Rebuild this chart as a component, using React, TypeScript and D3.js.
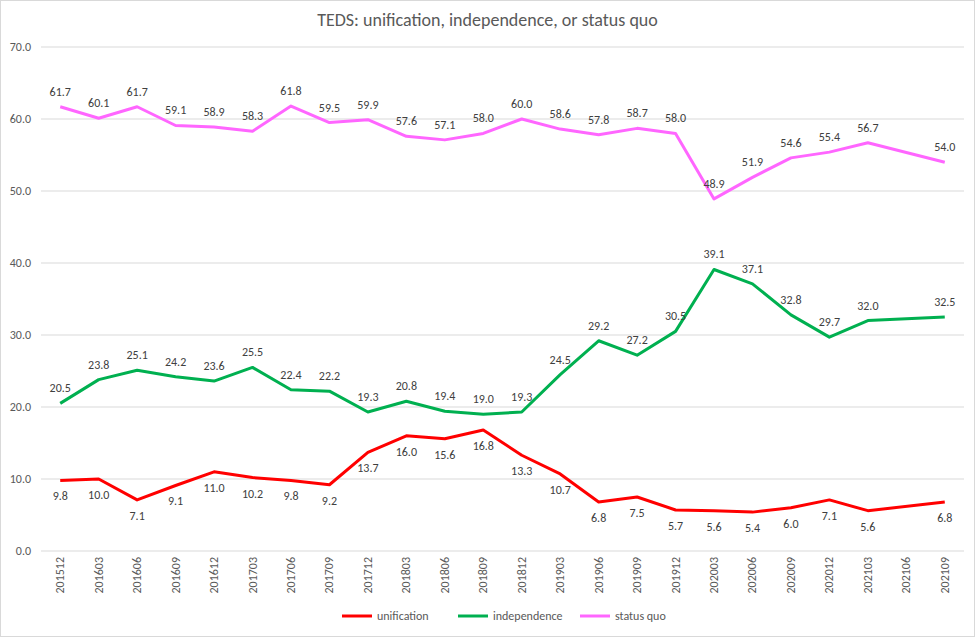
import * as React from "react";
import * as d3 from "d3";

const periods = ["201512","201603","201606","201609","201612","201703","201706","201709","201712","201803","201806","201809","201812","201903","201906","201909","201912","202003","202006","202009","202012","202103","202106","202109"];
const unification = [9.8,10.0,7.1,9.1,11.0,10.2,9.8,9.2,13.7,16.0,15.6,16.8,13.3,10.7,6.8,7.5,5.7,5.6,5.4,6.0,7.1,5.6,null,6.8];
const independence = [20.5,23.8,25.1,24.2,23.6,25.5,22.4,22.2,19.3,20.8,19.4,19.0,19.3,24.5,29.2,27.2,30.5,39.1,37.1,32.8,29.7,32.0,null,32.5];
const statusQuo = [61.7,60.1,61.7,59.1,58.9,58.3,61.8,59.5,59.9,57.6,57.1,58.0,60.0,58.6,57.8,58.7,58.0,48.9,51.9,54.6,55.4,56.7,null,54.0];
const yTicks = [0,10,20,30,40,50,60,70];

const series = [
  { name: "unification", values: unification, color: "#ff0000", below: true },
  { name: "independence", values: independence, color: "#00b050", below: false },
  { name: "status quo", values: statusQuo, color: "#ff66ff", below: false },
];

const W = 975, H = 637;
const font = "Carlito, Calibri, 'Liberation Sans', Arial, sans-serif";

export default function App() {
  const x = d3.scaleBand().domain(periods).range([41, 964]);
  const y = d3.scaleLinear().domain([0, 70]).range([551, 47]);
  const cx = (p: string) => x(p)! + x.bandwidth() / 2;
  const line = d3.line<{ p: string; v: number }>().x(d => cx(d.p)).y(d => y(d.v));

  return (
    <svg width={W} height={H} style={{ position: "absolute", left: 0, top: 0, fontFamily: font }}>
      <rect x={0.5} y={0.5} width={W - 1} height={H - 1} fill="#fff" stroke="#d9d9d9" />
      <text x={W / 2} y={26} textAnchor="middle" fontSize={18} fill="#595959">TEDS: unification, independence, or status quo</text>
      {yTicks.map(t => (
        <g key={t}>
          <line x1={41} x2={964} y1={y(t)} y2={y(t)} stroke="#d9d9d9" />
          <text x={31} y={y(t) + 4} textAnchor="end" fontSize={12} fill="#595959">{t.toFixed(1)}</text>
        </g>
      ))}
      {periods.map(p => (
        <text key={p} transform={`translate(${cx(p) + 4},557) rotate(-90)`} textAnchor="end" fontSize={12} fill="#595959">{p}</text>
      ))}
      {series.map(s => {
        const pts = periods.map((p, i) => ({ p, v: s.values[i] as number | null }))
          .filter(d => d.v !== null) as { p: string; v: number }[];
        return (
          <g key={s.name}>
            <path d={line(pts)!} fill="none" stroke={s.color} strokeWidth={3} strokeLinejoin="round" />
            {pts.map(d => (
              <text key={d.p} x={cx(d.p)} y={s.below ? y(d.v) + 20 : y(d.v) - 11} textAnchor="middle" fontSize={12} fill="#404040">{d.v.toFixed(1)}</text>
            ))}
          </g>
        );
      })}
      {series.map((s, i) => {
        const lx = [342, 458, 580][i];
        return (
          <g key={s.name}>
            <line x1={lx} x2={lx + 30} y1={616} y2={616} stroke={s.color} strokeWidth={3} />
            <text x={lx + 35} y={620} fontSize={12} fill="#595959">{s.name}</text>
          </g>
        );
      })}
    </svg>
  );
}
